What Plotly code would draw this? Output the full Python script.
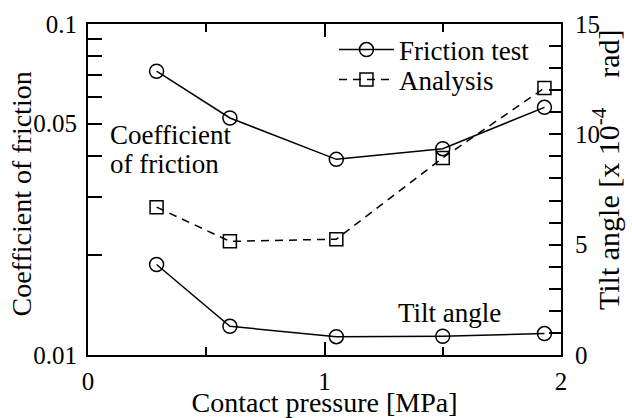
import plotly.graph_objects as go

# ---- data ----
pressure = [0.29, 0.6, 1.05, 1.5, 1.93]
friction_coef = [0.072, 0.052, 0.039, 0.042, 0.056]
tilt_friction_test = [4.1, 1.3, 0.83, 0.85, 0.97]
tilt_analysis = [6.7, 5.15, 5.25, 8.93, 12.1]

left_tickvals = [0.01, 0.05, 0.1]
left_ticktext = ["0.01", "0.05", "0.1"]
left_minor = [0.02, 0.03, 0.04, 0.06, 0.07, 0.08, 0.09]
right_tickvals = [0, 5, 10, 15]
right_ticktext = ["0", "5", "10", "15"]
right_minor = [v for v in range(1, 15) if v % 5 != 0]
x_tickvals = [0, 1, 2]
x_ticktext = ["0", "1", "2"]
x_minor = [0.5, 1.5]

FONT = "Liberation Serif"
BLACK = "#000000"
TICK_FS = 25
TITLE_FS = 28
TEXT_FS = 27

# plot-area geometry (pixels) used to place free text in paper coordinates
L, R, T, B = 88, 561, 24, 355


def px_x(p):
    return (p - L) / (R - L)


def px_y(p):
    return (B - p) / (B - T)


def F(size):
    return dict(family=FONT, size=size, color=BLACK)


fig = go.Figure()

fig.add_trace(go.Scatter(
    x=pressure, y=friction_coef, name="Friction test", mode="lines+markers",
    line=dict(color=BLACK, width=1.5),
    marker=dict(symbol="circle-open", size=14, color=BLACK, line=dict(width=1.5)),
    yaxis="y", showlegend=True, legend="legend"))

fig.add_trace(go.Scatter(
    x=pressure, y=tilt_analysis, name="Analysis", mode="lines+markers",
    line=dict(color=BLACK, width=1.5, dash="8px,6px"),
    marker=dict(symbol="square-open", size=13, color=BLACK, line=dict(width=1.5)),
    yaxis="y2", showlegend=True, legend="legend2"))

fig.add_trace(go.Scatter(
    x=pressure, y=tilt_friction_test, name="Friction test (tilt)", mode="lines+markers",
    line=dict(color=BLACK, width=1.5),
    marker=dict(symbol="circle-open", size=14, color=BLACK, line=dict(width=1.5)),
    yaxis="y2", showlegend=False))

legend_common = dict(xanchor="left", yanchor="middle", bgcolor="rgba(0,0,0,0)",
                     borderwidth=0, font=F(TEXT_FS), itemwidth=55)

fig.update_layout(
    width=632, height=418,
    margin=dict(l=L, r=632 - R, t=T, b=418 - B, autoexpand=False),
    paper_bgcolor="white", plot_bgcolor="white",
    font=F(TEXT_FS),
    xaxis=dict(
        range=[0, 2], tickvals=x_tickvals, ticktext=x_ticktext,
        ticks="inside", ticklen=13, tickwidth=1.5, tickcolor=BLACK,
        minor=dict(tickvals=x_minor, ticks="inside", ticklen=8, tickwidth=1.5, tickcolor=BLACK),
        showline=True, linecolor=BLACK, linewidth=2, mirror="ticks",
        showgrid=False, zeroline=False, automargin=False,
        ticklabelstandoff=3,
        title=dict(text="Contact pressure [MPa]", standoff=4, font=F(TITLE_FS)),
        tickfont=F(TICK_FS),
    ),
    yaxis=dict(
        type="log", range=[-2, -1], tickvals=left_tickvals, ticktext=left_ticktext,
        ticks="inside", ticklen=14, tickwidth=1.5, tickcolor=BLACK,
        minor=dict(tickvals=left_minor, ticks="inside", ticklen=14, tickwidth=1.5, tickcolor=BLACK),
        showline=True, linecolor=BLACK, linewidth=2,
        showgrid=False, zeroline=False, automargin=False,
        ticklabelstandoff=4,
        tickfont=F(TICK_FS),
    ),
    yaxis2=dict(
        overlaying="y", side="right", range=[0, 15],
        tickvals=right_tickvals, ticktext=right_ticktext,
        ticks="inside", ticklen=12, tickwidth=1.5, tickcolor=BLACK,
        minor=dict(tickvals=right_minor, ticks="inside", ticklen=12, tickwidth=1.5, tickcolor=BLACK),
        showline=True, linecolor=BLACK, linewidth=2,
        showgrid=False, zeroline=False, automargin=False,
        ticklabelstandoff=7,
        tickfont=F(TICK_FS),
    ),
    legend=dict(x=0.52, y=px_y(50), **legend_common),
    legend2=dict(x=0.52, y=px_y(80), **legend_common),
    annotations=[
        # axis titles
        dict(text="Coefficient of friction", xref="paper", yref="paper",
             x=px_x(39), y=px_y(194), xanchor="right", yanchor="middle",
             textangle=-90, showarrow=False, font=F(TITLE_FS)),
        dict(text="Tilt angle [x\u00a010<sup>-4</sup>\u00a0\u00a0\u00a0\u00a0rad]",
             xref="paper", yref="paper",
             x=px_x(627), y=px_y(170), xanchor="right", yanchor="middle",
             textangle=-90, showarrow=False, font=F(30)),
        # in-plot labels
        dict(text="Coefficient", xref="x", yref="paper", x=0.085, y=px_y(135),
             xanchor="left", yanchor="middle", showarrow=False, font=F(TEXT_FS)),
        dict(text="of friction", xref="x", yref="paper", x=0.085, y=px_y(164),
             xanchor="left", yanchor="middle", showarrow=False, font=F(TEXT_FS)),
        dict(text="Tilt angle", xref="x", yref="paper", x=1.53, y=px_y(313),
             xanchor="center", yanchor="middle", showarrow=False, font=F(TEXT_FS)),
    ],
)

fig.write_html("out.html")
